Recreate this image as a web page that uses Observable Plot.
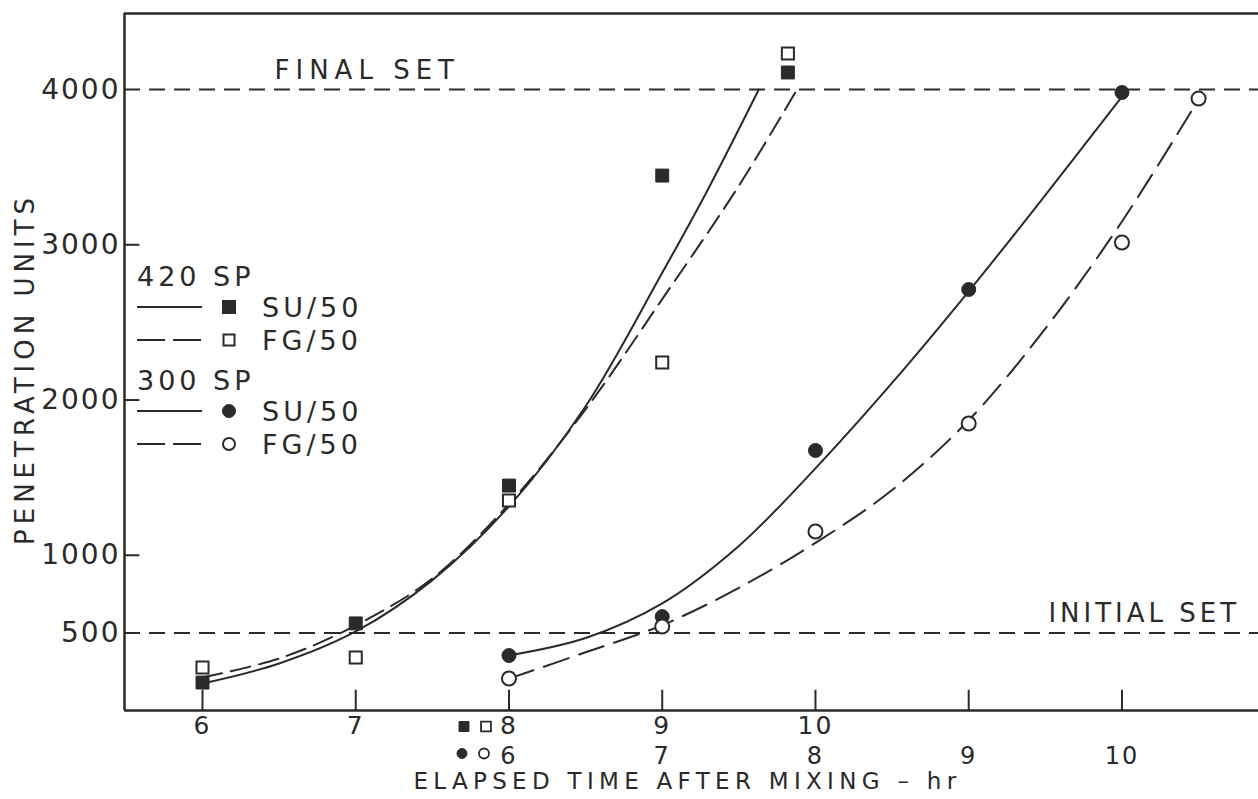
<!DOCTYPE html>
<html><head><meta charset="utf-8">
<script src="https://cdn.jsdelivr.net/npm/d3@7"></script>
<script src="https://cdn.jsdelivr.net/npm/@observablehq/plot@0.6"></script>
<style>
html,body{margin:0;padding:0;background:#fff;}
#wrap{position:relative;width:1258px;height:799px;overflow:hidden;}
#wrap svg text{letter-spacing:4px;}
#legend{position:absolute;left:0;top:0;pointer-events:none;}
</style></head><body><div id="wrap"></div>
<script>
// ---- measured points (x in hours after mixing) ----
const hours420 = [6, 7, 8, 9, 9.82];
const su420 = [180, 561, 1449, 3446, 4110];
const fg420 = [277, 341, 1353, 2242, 4232];
const hours300su = [6, 7, 8, 9, 10];
const su300 = [354, 605, 1675, 2712, 3981];
const hours300fg = [6, 7, 8, 9, 10, 10.5];
const fg300 = [206, 541, 1153, 1849, 3015, 3942];

// ---- fitted curves ----
const curveSU420X = [6, 6.5, 7, 7.5, 8, 8.5, 9, 9.3, 9.63];
const curveSU420Y = [174, 303, 509, 840, 1315, 1960, 2820, 3360, 4000];
const curveFG420X = [6, 6.5, 7, 7.5, 8, 8.5, 9, 9.5, 9.87];
const curveFG420Y = [213, 335, 548, 851, 1330, 1940, 2650, 3380, 3985];
const curveSU300X = [6, 6.5, 7, 7.5, 8, 8.5, 9, 9.5, 10];
const curveSU300Y = [355, 467, 690, 1060, 1560, 2110, 2700, 3320, 3955];
const curveFG300X = [6, 6.5, 7, 7.5, 8, 8.5, 9, 9.5, 10, 10.47];
const curveFG300Y = [205, 375, 550, 790, 1080, 1420, 1870, 2460, 3150, 3888];

// ---- reference levels ----
const setLevels = [4000, 500];
const setLabels = ["FINAL SET", "INITIAL SET"];
const setLabelHours = [6.47, 11.52]; // on the 420 SP hour scale

// ---- axes ----
const yTicks = [500, 1000, 2000, 3000, 4000];
const yInnerTicks = [1000, 2000, 3000];
const xTicks420 = [6, 7, 8, 9, 10];
const xTicks300 = [6, 7, 8, 9, 10];
const offset300 = 2; // 300 SP hour 6 sits under 420 SP hour 8
const xTitle = "ELAPSED TIME AFTER MIXING \u2013 hr";
const yTitle = "PENETRATION UNITS";

// ---- legend ----
const legendRows = [
  {type: "header", label: "420 SP"},
  {type: "item", label: "SU/50", symbol: "square", filled: true, dashed: false},
  {type: "item", label: "FG/50", symbol: "square", filled: false, dashed: true},
  {type: "header", label: "300 SP"},
  {type: "item", label: "SU/50", symbol: "circle", filled: true, dashed: false},
  {type: "item", label: "FG/50", symbol: "circle", filled: false, dashed: true}
];

const ink = "#2a2a2a";
const xDomain = [5.491, 12.891];
const yDomain = [0, 4490];
const pts = (xs, ys, dx = 0) => xs.map((x, i) => ({x: x + dx, y: ys[i]}));
const allXTicks = Array.from(new Set([...xTicks420, ...xTicks300.map(d => d + offset300)]));

const keyMark = (symbol, filled, dx, dy) => Plot.dot([8], {
  x: d => d, y: () => 0, dx, dy, symbol,
  r: symbol === "square" ? 5.6 : 5,
  fill: filled ? ink : "white", stroke: ink, strokeWidth: filled ? 1 : 1.8
});

const chart = Plot.plot({
  width: 1258, height: 799,
  marginLeft: 124, marginRight: 0, marginTop: 13, marginBottom: 89,
  x: {domain: xDomain},
  y: {domain: yDomain},
  style: {fontFamily: "DejaVu Sans", fontSize: "26px", color: ink, background: "#fff"},
  marks: [
    Plot.ruleY(setLevels, {y: d => d, stroke: ink, strokeWidth: 2, strokeDasharray: "16,9"}),
    Plot.text(setLevels.map((y, i) => ({y, x: setLabelHours[i], t: setLabels[i]})),
      {x: "x", y: "y", text: "t", textAnchor: "start", dy: -19, fontSize: 26, fill: ink}),
    Plot.line(pts(curveSU420X, curveSU420Y), {x: "x", y: "y", curve: "catmull-rom", stroke: ink, strokeWidth: 2}),
    Plot.line(pts(curveFG420X, curveFG420Y), {x: "x", y: "y", curve: "catmull-rom", stroke: ink, strokeWidth: 2, strokeDasharray: "20,9"}),
    Plot.line(pts(curveSU300X, curveSU300Y, offset300), {x: "x", y: "y", curve: "catmull-rom", stroke: ink, strokeWidth: 2}),
    Plot.line(pts(curveFG300X, curveFG300Y, offset300), {x: "x", y: "y", curve: "catmull-rom", stroke: ink, strokeWidth: 2, strokeDasharray: "26,11"}),
    Plot.dot(pts(hours420, su420), {x: "x", y: "y", symbol: "square", r: 7.3, fill: ink, stroke: ink, strokeWidth: 1}),
    Plot.dot(pts(hours420, fg420), {x: "x", y: "y", symbol: "square", r: 6.8, fill: "white", stroke: ink, strokeWidth: 2}),
    Plot.dot(pts(hours300su, su300, offset300), {x: "x", y: "y", r: 7, fill: ink, stroke: ink, strokeWidth: 1}),
    Plot.dot(pts(hours300fg, fg300, offset300), {x: "x", y: "y", r: 7, fill: "white", stroke: ink, strokeWidth: 2}),
    // frame lines
    Plot.ruleX([xDomain[0]], {x: d => d, stroke: ink, strokeWidth: 2.5}),
    Plot.ruleY([0, yDomain[1]], {y: d => d, stroke: ink, strokeWidth: 2.5}),
    // inward ticks
    Plot.ruleX(allXTicks, {x: d => d, y1: 0, y2: 130, stroke: ink, strokeWidth: 2}),
    Plot.ruleY(yInnerTicks, {y: d => d, x1: xDomain[0], x2: xDomain[0] + 0.1, stroke: ink, strokeWidth: 2}),
    // tick labels
    Plot.axisY(yTicks, {tickSize: 0, tickPadding: 4, fontSize: 28, tickFormat: d => `${d}`, label: null}),
    Plot.axisX(xTicks420, {tickSize: 0, tickPadding: 6, fontSize: 25, tickFormat: d => `${d}`, label: null}),
    Plot.axisX(xTicks300.map(d => d + offset300), {tickSize: 0, tickPadding: 36, fontSize: 24, tickFormat: d => `${d - offset300}`, label: null}),
    keyMark("square", true, -45, 16),
    keyMark("square", false, -23, 16),
    keyMark("circle", true, -47, 43),
    keyMark("circle", false, -25, 43),
    Plot.text([xTitle], {text: d => d, frameAnchor: "bottom", dy: 78, dx: -4, fontSize: 23, fill: ink}),
    Plot.text([yTitle], {text: d => d, frameAnchor: "left", textAnchor: "middle", rotate: -90, dx: -99, dy: 7, fontSize: 26, fill: ink})
  ]
});

const wrap = document.getElementById("wrap");
wrap.appendChild(chart);
const svgSel = d3.select(chart);
svgSel.selectAll("text").filter(function() { return this.textContent === xTitle; }).style("letter-spacing", "5.3px");
svgSel.selectAll("text").filter(function() { return this.textContent === yTitle; }).style("letter-spacing", "5px");
svgSel.selectAll("text").filter(function() { return this.textContent === setLabels[0]; }).style("letter-spacing", "6px");
svgSel.selectAll("text").filter(function() { return /^\d+$/.test(this.textContent); }).style("letter-spacing", "2px");

// legend overlay
const lg = d3.select(wrap).append("svg").attr("id", "legend").attr("width", 1258).attr("height", 799)
  .style("font-family", "DejaVu Sans").style("font-size", "27px");
let ly = 276;
legendRows.forEach((row, i) => {
  if (i > 0) {
    const prev = legendRows[i - 1];
    ly += row.type === "header" ? 40 : (prev.type === "header" ? 31 : 33);
  }
  const y = ly;
  if (row.type === "header") {
    lg.append("text").attr("x", 137).attr("y", y).attr("dy", "0.36em").attr("fill", ink).text(row.label);
    return;
  }
  lg.append("line").attr("x1", 137).attr("x2", 202).attr("y1", y).attr("y2", y)
    .attr("stroke", ink).attr("stroke-width", 2).attr("stroke-dasharray", row.dashed ? "28,8" : null);
  if (row.symbol === "square") {
    const s = row.filled ? 13 : 11;
    lg.append("rect").attr("x", 229 - s / 2).attr("y", y - s / 2).attr("width", s).attr("height", s)
      .attr("fill", row.filled ? ink : "white").attr("stroke", ink).attr("stroke-width", row.filled ? 1 : 2);
  } else {
    lg.append("circle").attr("cx", 229).attr("cy", y).attr("r", row.filled ? 6.5 : 6)
      .attr("fill", row.filled ? ink : "white").attr("stroke", ink).attr("stroke-width", row.filled ? 1 : 2);
  }
  lg.append("text").attr("x", 262).attr("y", y).attr("dy", "0.36em").attr("fill", ink).text(row.label);
});
</script></body></html>
